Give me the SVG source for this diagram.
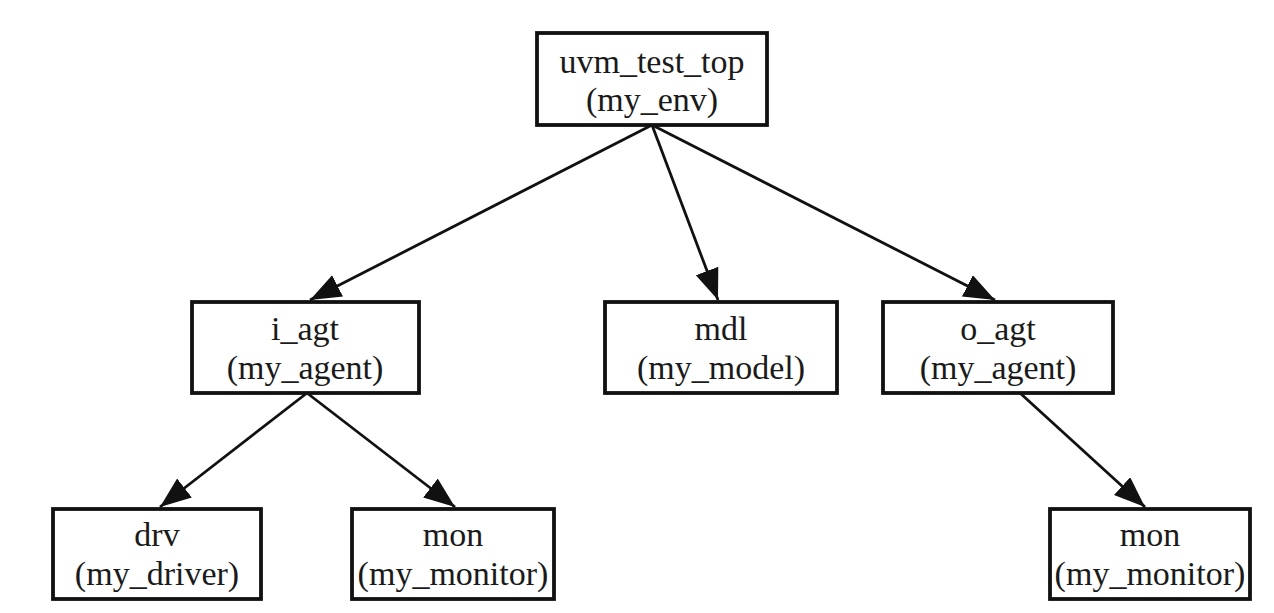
<svg xmlns="http://www.w3.org/2000/svg" width="1274" height="613" viewBox="0 0 1274 613">
<style>
.box{fill:#fff;stroke:#111;stroke-width:3.8}
.t{font-family:"Liberation Serif","Times New Roman",serif;font-size:34px;fill:#1a1a1a;text-anchor:middle}
.e{stroke:#111;stroke-width:2.8;fill:none}
</style>
<defs>
<marker id="ah" markerUnits="userSpaceOnUse" markerWidth="34" markerHeight="26" refX="31" refY="12" orient="auto">
<path d="M0,0 L31,12 L0,24 z" fill="#111"/>
</marker>
</defs>
<rect width="1274" height="613" fill="#fff"/>
<g id="connectors">
<line class="e" x1="652" y1="125" x2="310" y2="300" marker-end="url(#ah)"/>
<line class="e" x1="652" y1="125" x2="718" y2="300" marker-end="url(#ah)"/>
<line class="e" x1="652" y1="125" x2="995" y2="300" marker-end="url(#ah)"/>
<line class="e" x1="307" y1="393" x2="160" y2="507" marker-end="url(#ah)"/>
<line class="e" x1="307" y1="393" x2="455" y2="507" marker-end="url(#ah)"/>
<line class="e" x1="1020" y1="393" x2="1145" y2="507" marker-end="url(#ah)"/>
</g>
<g id="uvm_test_top">
<rect class="box" x="537" y="33" width="230" height="92"/>
<text class="t" x="652" y="73">uvm_test_top</text>
<text class="t" x="652" y="111">(my_env)</text>
</g>
<g id="i_agt">
<rect class="box" x="192" y="302" width="227" height="91"/>
<text class="t" x="305" y="340">i_agt</text>
<text class="t" x="305" y="379">(my_agent)</text>
</g>
<g id="mdl">
<rect class="box" x="605" y="302" width="232" height="91"/>
<text class="t" x="721" y="340">mdl</text>
<text class="t" x="721" y="379">(my_model)</text>
</g>
<g id="o_agt">
<rect class="box" x="883" y="302" width="230" height="91"/>
<text class="t" x="998" y="340">o_agt</text>
<text class="t" x="998" y="379">(my_agent)</text>
</g>
<g id="drv">
<rect class="box" x="53" y="509" width="208" height="90"/>
<text class="t" x="157" y="546">drv</text>
<text class="t" x="157" y="585">(my_driver)</text>
</g>
<g id="mon_i">
<rect class="box" x="352" y="509" width="202" height="90"/>
<text class="t" x="453" y="546">mon</text>
<text class="t" x="453" y="585">(my_monitor)</text>
</g>
<g id="mon_o">
<rect class="box" x="1050" y="509" width="200" height="90"/>
<text class="t" x="1150" y="546">mon</text>
<text class="t" x="1150" y="585">(my_monitor)</text>
</g>
</svg>
